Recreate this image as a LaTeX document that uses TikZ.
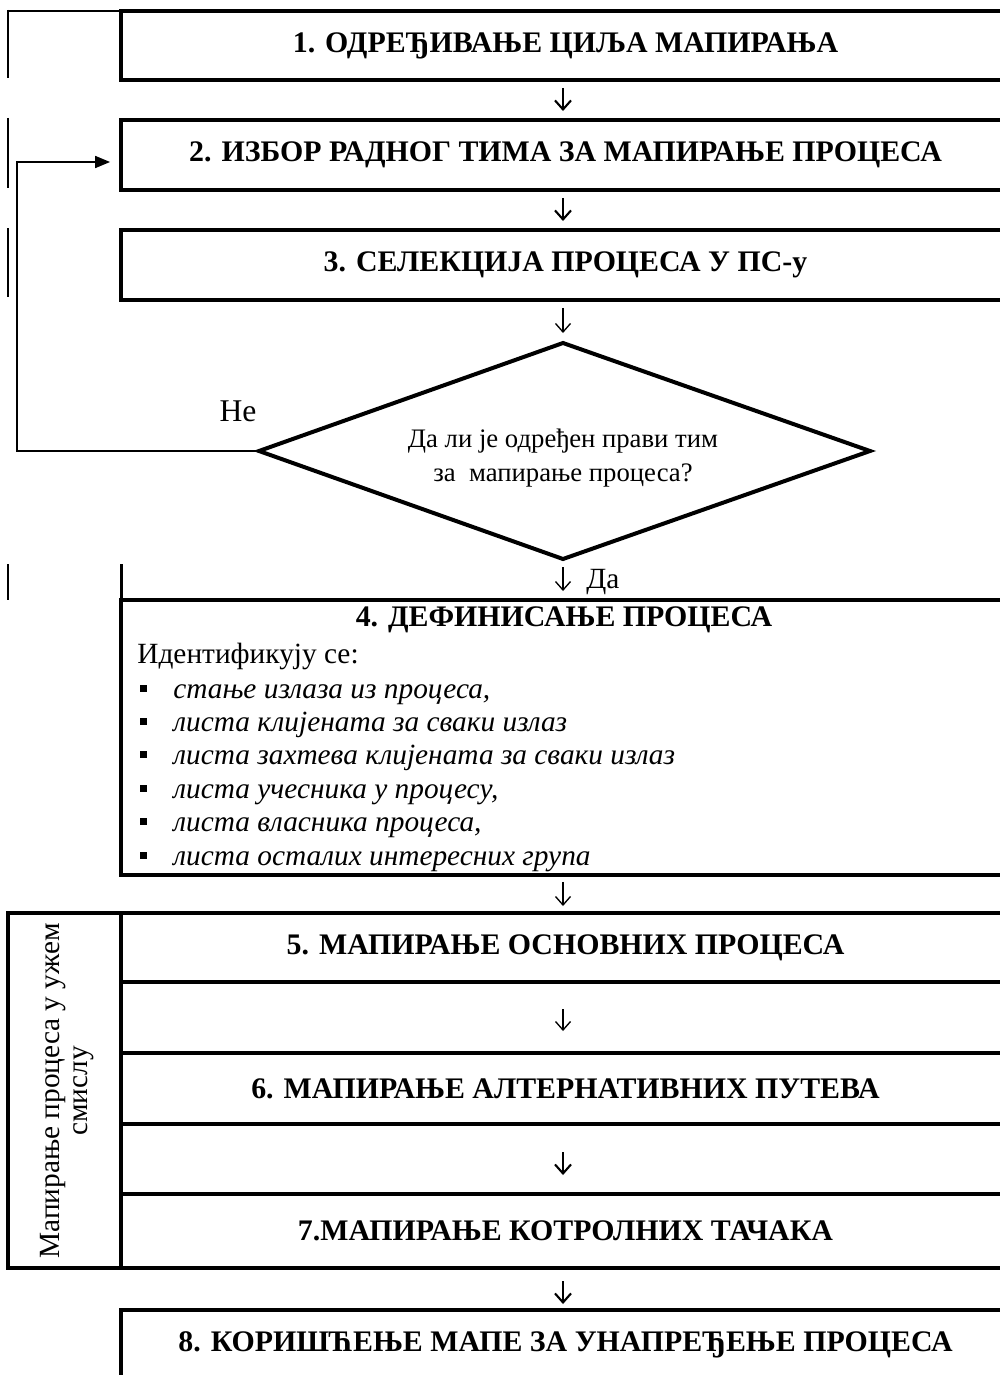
\documentclass[tikz,border=0pt]{standalone}
\usepackage{fontspec}
\setmainfont{Liberation Serif}[BoldFont={Liberation Serif Bold},ItalicFont={Liberation Serif Italic},BoldItalicFont={Liberation Serif Bold Italic}]
\usetikzlibrary{arrows.meta,calc}
\begin{document}
\begin{tikzpicture}[x=0.02cm,y=-0.02cm,
  boxline/.style={line width=0.08cm},
  thinline/.style={line width=0.035cm},
  stepbox/.style={draw, boxline, rectangle, inner sep=0pt,
    minimum width=17.78cm, font=\fontsize{17}{20}\selectfont\bfseries},
  body/.style={inner sep=0pt, font=\fontsize{16.7}{20}\selectfont},
  listitem/.style={inner sep=0pt, anchor=base west, font=\fontsize{16.7}{20}\selectfont\itshape},
  bulletmark/.style={fill=black, inner sep=0pt, minimum size=0.14cm},
  flow/.style={line width=0.027cm, -{Straight Barb[length=0.17cm,width=0.3cm,line width=0.027cm]}},
  boldflow/.style={line width=0.042cm, -{Straight Barb[length=0.18cm,width=0.32cm,line width=0.042cm]}},
]
\useasboundingbox (0,0) rectangle (1000,1375);

% steps 1--3
\node[stepbox, minimum height=1.38cm] (b1) at (565.5,45.5) {1. ОДРЕЂИВАЊЕ ЦИЉА МАПИРАЊА};
\node[stepbox, minimum height=1.40cm] (b2) at (565.5,155) {2. ИЗБОР РАДНОГ ТИМА ЗА МАПИРАЊЕ ПРОЦЕСА};
\node[stepbox, minimum height=1.40cm] (b3) at (565.5,265) {3. СЕЛЕКЦИЈА ПРОЦЕСА У ПС-у};

% table rules on the left margin
\draw[thinline] (8,11) -- (121,11);
\draw[thinline] (8,10) -- (8,78);
\draw[thinline] (8,118) -- (8,188);
\draw[thinline] (8,228) -- (8,297);
\draw[thinline] (8,564) -- (8,600);
\draw[line width=0.06cm] (121,564) -- (121,600);

% decision
\coordinate (dt) at (563,343);
\coordinate (dr) at (870,451);
\coordinate (db) at (563,559);
\coordinate (dl) at (259,451);
\draw[boxline, line join=miter] (dt) -- (dr) -- (db) -- (dl) -- cycle;
\node[inner sep=0pt, align=center, font=\fontsize{15.2}{19.3}\selectfont] (dq) at (563,458)
  {Да ли је одређен прави тим\\за~~мапирање процеса?};

% flow between steps
\draw[boldflow, shorten <=0.12cm, shorten >=0.14cm] (b1.south -| 563,0) -- (b2.north -| 563,0);
\draw[boldflow, shorten <=0.12cm, shorten >=0.14cm] (b2.south -| 563,0) -- (b3.north -| 563,0);
\draw[flow, shorten <=0.12cm, shorten >=0.2cm] (b3.south -| dt) -- (dt);

% "no" branch back to step 2
\node[body, font=\fontsize{18}{21}\selectfont] (no) at (238,411) {Не};
\draw[thinline, -{Triangle[length=0.3cm,width=0.24cm]}, shorten >=0.18cm]
  (dl) -- (17,451) |- ($(b2.west)+(0,7)$);

% step 4
\node[draw, boxline, rectangle, minimum width=17.78cm, minimum height=5.5cm] (b4) at (565.5,737.5) {};
\node[inner sep=0pt, font=\fontsize{17}{20}\selectfont\bfseries] (t4) at (564,620) {4. ДЕФИНИСАЊЕ ПРОЦЕСА};
\node[body, anchor=base west] (idn) at (137,663) {Идентификују се:};
\foreach \txt [count=\i from 0] in {
    стање излаза из процеса{,},
    листа клијената за сваки излаз,
    листа захтева клијената за сваки излаз,
    листа учесника у процесу{,},
    листа власника процеса{,},
    листа осталих интересних група} {
  \node[bulletmark] (bl\i) at (143,{688+33.4*\i}) {};
  \node[listitem] (li\i) at (173,{698+33.4*\i}) {\txt};
}

% "yes" branch
\draw[flow, shorten <=0.16cm, shorten >=0.14cm] (db) -- (b4.north -| db);
\node[body, anchor=west] (yes) at (586,582) {Да};

\draw[flow, shorten <=0.1cm, shorten >=0.14cm] (b4.south -| 563,0) -- (563,913);

% steps 5--7 grouped
\draw[boxline] (8,913) rectangle (1010,1268);
\node[stepbox, minimum height=1.38cm] (b5) at (565.5,947.5) {5. МАПИРАЊЕ ОСНОВНИХ ПРОЦЕСА};
\node[stepbox, minimum height=1.42cm] (b6) at (565.5,1088.5) {6. МАПИРАЊЕ АЛТЕРНАТИВНИХ ПУТЕВА};
\node[stepbox, minimum height=1.48cm] (b7) at (565.5,1231) {7.МАПИРАЊЕ КОТРОЛНИХ ТАЧАКА};
\draw[boxline] (121,913) -- (121,1268);
\node[rotate=90, align=center, inner sep=0pt, font=\fontsize{16.7}{16}\selectfont] (grp) at (67,1091)
  {Мапирање процеса у ужем\\смислу};
\draw[flow, shorten <=0.5cm, shorten >=0.4cm] (b5.south -| 563,0) -- (b6.north -| 563,0);
\draw[boldflow, shorten <=0.52cm, shorten >=0.34cm] (b6.south -| 563,0) -- (b7.north -| 563,0);

% step 8
\node[stepbox, minimum height=1.38cm] (b8) at (565.5,1344.5) {8. КОРИШЋЕЊЕ МАПЕ ЗА УНАПРЕЂЕЊЕ ПРОЦЕСА};
\draw[boldflow, shorten <=0.22cm, shorten >=0.08cm] (b7.south -| 563,0) -- (b8.north -| 563,0);
\end{tikzpicture}
\end{document}
